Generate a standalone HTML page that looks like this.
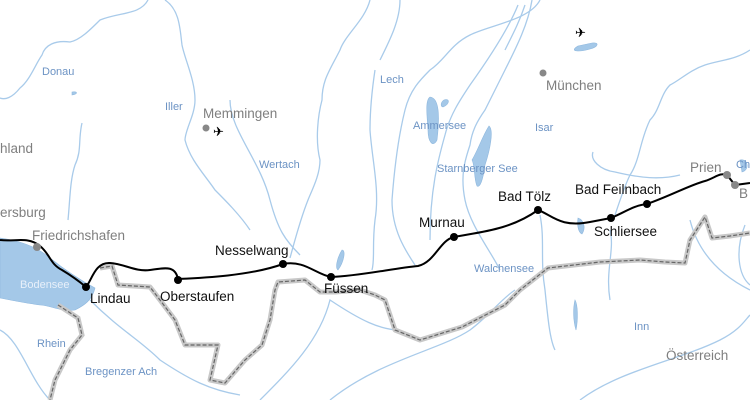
<!DOCTYPE html>
<html><head><meta charset="utf-8"><style>
html,body{margin:0;padding:0;background:#fff;width:750px;height:400px;overflow:hidden}
svg{display:block}
.r{fill:none;stroke:#a9cbea;stroke-width:1.3}
.lk{fill:#a4c8e8;stroke:#8fb8de;stroke-width:.6}
.w{font-family:"Liberation Sans",sans-serif;font-size:11px;fill:#6c93c4}
.g{font-family:"Liberation Sans",sans-serif;font-size:13.5px;fill:#7f7f7f}
.b{font-family:"Liberation Sans",sans-serif;font-size:13.5px;fill:#111}
</style></head><body>
<svg width="750" height="400" viewBox="0 0 750 400" xmlns="http://www.w3.org/2000/svg">
<!-- rivers -->
<path class="r" d="M148,0 C140,15 120,12 100,20 C90,30 80,40 70,42 C55,40 45,45 42,55 C35,65 30,80 20,88 C12,98 5,100 0,98"/>
<path class="r" d="M165,0 C180,10 180,30 182,45 C185,60 195,80 195,100 C195,115 185,130 185,140 C190,160 205,175 215,190 C225,200 240,215 250,230"/>
<path class="r" d="M82,123 C78,140 82,150 75,165 C70,180 70,200 68,220"/>
<path class="r" d="M370,0 C365,20 345,35 340,50 C330,70 322,80 322,100 C318,115 315,140 320,160 C320,175 312,190 308,200 C300,220 295,240 290,258"/>
<path class="r" d="M375,70 C372,90 370,110 370,130 C372,160 380,190 375,220 C372,245 375,260 372,270"/>
<path class="r" d="M400,0 C400,20 390,40 380,60"/>
<path class="r" d="M540,0 C530,20 490,25 470,35 C450,45 445,60 430,70 C420,80 410,90 405,110 C400,130 395,160 392,200 C392,230 405,250 415,265"/>
<path class="r" d="M518,5 C510,25 495,50 470,85 C460,100 450,115 445,135 C438,160 430,190 430,240"/>
<path class="r" d="M532,0 C528,25 515,50 505,70 C495,90 490,100 485,110 C478,120 472,130 470,145 C465,160 460,175 465,200 C470,225 490,250 500,270"/>
<path class="r" d="M525,5 C520,20 515,30 505,50"/>
<path class="r" d="M540,215 C545,240 540,260 545,290 C548,320 550,340 555,350"/>
<path class="r" d="M750,50 C735,60 720,60 705,65 C690,70 680,80 670,85 C660,95 660,110 650,120 C640,140 640,160 630,175 C625,185 620,200 615,215"/>
<path class="r" d="M593,152 C590,160 600,170 615,172 C640,178 660,180 680,175"/>
<path class="r" d="M610,230 C615,250 605,270 610,300"/>
<path class="r" d="M0,330 C20,340 30,380 50,400"/>
<path class="r" d="M90,300 C120,330 140,340 160,360 C190,380 210,390 240,395"/>
<path class="r" d="M260,400 C290,370 320,340 330,300 C360,320 380,330 400,330"/>
<path class="r" d="M330,400 C380,360 440,350 470,330 C490,315 500,300 515,290"/>
<path class="r" d="M580,400 C620,370 680,360 720,340 C740,330 745,320 750,315"/>
<path class="r" d="M690,220 C700,260 730,280 750,290"/>
<path class="r" d="M745,225 C735,250 738,275 750,285"/>
<path class="r" d="M230,100 C230,130 260,160 270,200 C278,230 285,240 300,255"/>
<!-- lakes -->
<path class="lk" d="M0,238 C15,240 35,245 50,258 C65,270 80,280 95,288 C92,300 85,305 75,310 C60,312 50,305 40,305 C25,303 10,300 0,298 Z"/>
<path class="lk" d="M430,97 C439,98 440,115 437,140 C433,148 428,142 428,130 C427,115 425,100 430,97Z"/>
<path class="lk" d="M444,100 C450,98 450,104 443,107 C440,106 441,102 444,100Z"/>
<path class="lk" d="M489,126 C494,130 490,150 485,165 C483,180 480,188 477,186 C474,180 475,165 472,160 C478,150 483,135 489,126Z"/>
<path class="lk" d="M592,43 C600,42 598,47 590,49 C580,52 568,52 578,46Z"/>
<path class="lk" d="M342,250 C346,250 344,262 338,270 C335,268 337,258 342,250Z"/>
<path class="lk" d="M578,218 C584,220 586,228 582,234 C578,232 577,225 578,218Z"/>
<path class="lk" d="M575,300 C578,305 578,320 576,330 C573,320 573,308 575,300Z"/>
<path class="lk" d="M740,160 C748,158 750,170 742,172 Z"/>
<path class="lk" d="M72,92 C78,91 78,94 72,95 Z"/>
<!-- border -->
<g id="bd">
<path d="M100,268 L112,266 L118,285 L150,287 L160,300 L175,320 L185,345 L205,345 L218,345 L210,380 L225,383 L245,360 L262,345 L270,320 L275,290 L278,282 L305,280 L320,292 L335,292 L360,290 L375,295 L385,300 L395,330 L420,340 L462,327 L505,305 L520,290 L548,268 L600,262 L640,260 L665,262 L685,263 L690,240 L705,217 L712,238 L730,236 L750,233" fill="none" stroke="#c8c8c8" stroke-width="5" stroke-linejoin="round"/>
<path d="M100,268 L112,266 L118,285 L150,287 L160,300 L175,320 L185,345 L205,345 L218,345 L210,380 L225,383 L245,360 L262,345 L270,320 L275,290 L278,282 L305,280 L320,292 L335,292 L360,290 L375,295 L385,300 L395,330 L420,340 L462,327 L505,305 L520,290 L548,268 L600,262 L640,260 L665,262 L685,263 L690,240 L705,217 L712,238 L730,236 L750,233" fill="none" stroke="#666" stroke-width="1.2" stroke-dasharray="4,2"/>
</g>
<path d="M58,305 L78,318 L82,335 L70,350 L55,380 L50,400" fill="none" stroke="#c8c8c8" stroke-width="5"/>
<path d="M58,305 L78,318 L82,335 L70,350 L55,380 L50,400" fill="none" stroke="#666" stroke-width="1.2" stroke-dasharray="4,2"/>
<!-- route -->
<path d="M0,240 C15,242 28,236 40,246 C50,254 50,264 62,270 C72,276 80,282 86,287 C92,280 95,262 110,263 C125,264 135,272 150,270 C165,268 175,265 178,279 C200,278 250,276 283,264 C305,260 315,274 331,277 C360,276 395,268 418,266 C435,262 440,240 454,237 C480,232 510,230 538,210 C552,215 560,228 590,222 L611,218 C625,212 635,205 647,204 C670,196 690,185 705,181 C715,178 720,172 727,175 L735,185 L750,183" fill="none" stroke="#000" stroke-width="2"/>
<g fill="#000"><circle cx="86" cy="287" r="4"/><circle cx="178" cy="280" r="4"/><circle cx="283" cy="264" r="4"/><circle cx="331" cy="277" r="4"/><circle cx="454" cy="237" r="4"/><circle cx="538" cy="210" r="4"/><circle cx="611" cy="218" r="4"/><circle cx="647" cy="204" r="4"/></g>
<g fill="#888"><circle cx="37" cy="247" r="4"/><circle cx="727" cy="175" r="4"/><circle cx="735" cy="185" r="4"/><circle cx="206" cy="128" r="3.5"/><circle cx="543" cy="73" r="3.5"/></g>
<!-- planes -->
<text x="213" y="136" style="font-family:'DejaVu Sans';font-size:13px">✈</text>
<text x="575" y="37" style="font-family:'DejaVu Sans';font-size:13px">✈</text>
<!-- labels -->
<text class="w" x="42" y="75">Donau</text>
<text class="w" x="165" y="110">Iller</text>
<text class="w" x="259" y="168">Wertach</text>
<text class="w" x="380" y="83">Lech</text>
<text class="w" x="413" y="129">Ammersee</text>
<text class="w" x="437" y="172">Starnberger See</text>
<text class="w" x="535" y="131">Isar</text>
<text class="w" x="474" y="272">Walchensee</text>
<text class="w" x="20" y="288" style="fill:#e8f0fa">Bodensee</text>
<text class="w" x="37" y="347">Rhein</text>
<text class="w" x="85" y="375">Bregenzer Ach</text>
<text class="w" x="634" y="330">Inn</text>
<text class="g" x="203" y="118">Memmingen</text>
<text class="g" x="546" y="90">München</text>
<text class="g" x="0" y="153">hland</text>
<text class="g" x="0" y="217">ersburg</text>
<text class="g" x="32" y="240">Friedrichshafen</text>
<text class="g" x="690" y="172">Prien</text>
<text class="g" x="739" y="198">B</text>
<text class="w" x="736" y="168">Ch</text>
<text class="g" x="666" y="360">Österreich</text>
<text class="b" x="215" y="255">Nesselwang</text>
<text class="b" x="90" y="303">Lindau</text>
<text class="b" x="160" y="301">Oberstaufen</text>
<text class="b" x="324" y="293">Füssen</text>
<text class="b" x="419" y="227">Murnau</text>
<text class="b" x="498" y="201">Bad Tölz</text>
<text class="b" x="575" y="194">Bad Feilnbach</text>
<text class="b" x="594" y="236">Schliersee</text>
</svg>
</body></html>
